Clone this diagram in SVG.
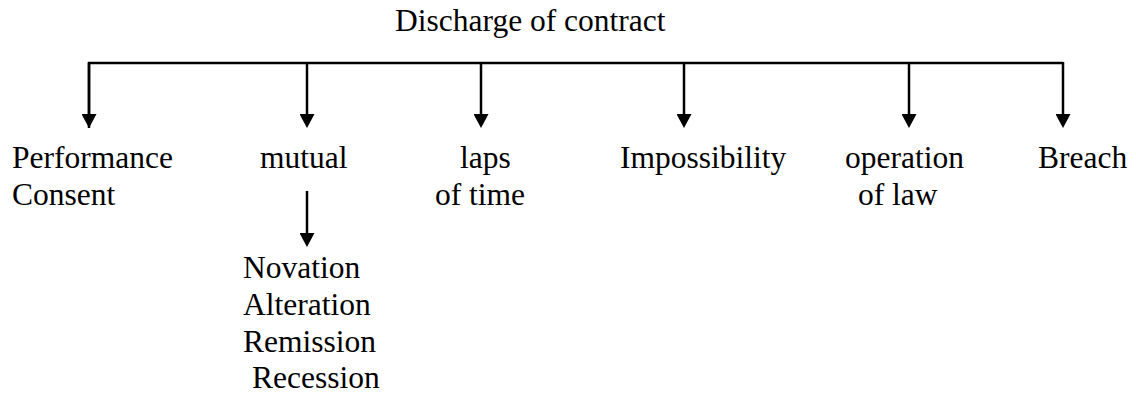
<svg xmlns="http://www.w3.org/2000/svg" width="1136" height="394" viewBox="0 0 1136 394">
<style>
  .t { font-family: 'Liberation Serif', 'DejaVu Serif', serif; font-size: 31.5px; fill: #000; }
  .conn { stroke: #000; stroke-width: 2.5; fill: none; }
</style>
<defs>
  <marker id="ah" markerUnits="userSpaceOnUse" markerWidth="14" markerHeight="15" viewBox="0 0 14 15" refX="4" refY="7.5" orient="auto">
    <path d="M0,0 L14,7.5 L0,15 z" fill="#000"/>
  </marker>
</defs>
<rect width="1136" height="394" fill="#fff"/>
<g id="connectors">
  <path class="conn" d="M89,128 V63 H1063"/>
  <line class="conn" x1="89" y1="63" x2="89" y2="118" marker-end="url(#ah)"/>
  <line class="conn" x1="307" y1="63" x2="307" y2="118" marker-end="url(#ah)"/>
  <line class="conn" x1="481" y1="63" x2="481" y2="118" marker-end="url(#ah)"/>
  <line class="conn" x1="684" y1="63" x2="684" y2="118" marker-end="url(#ah)"/>
  <line class="conn" x1="909" y1="63" x2="909" y2="118" marker-end="url(#ah)"/>
  <line class="conn" x1="1063" y1="62" x2="1063" y2="118" marker-end="url(#ah)"/>
  <line class="conn" x1="307" y1="191" x2="307" y2="237" marker-end="url(#ah)"/>
</g>
<g class="t" font-family="Liberation Serif, serif">
<g id="root"><text x="395" y="31">Discharge of contract</text></g>
<g id="performance"><text x="12" y="168">Performance</text><text x="12" y="205">Consent</text></g>
<g id="mutual"><text x="260" y="168">mutual</text></g>
<g id="laps"><text x="460" y="168">laps</text><text x="435" y="205">of time</text></g>
<g id="impossibility"><text x="620" y="168">Impossibility</text></g>
<g id="operation"><text x="845" y="168">operation</text><text x="858" y="205">of law</text></g>
<g id="breach"><text x="1038" y="168">Breach</text></g>
<g id="mutual-types">
  <text x="243" y="278">Novation</text>
  <text x="243" y="315">Alteration</text>
  <text x="243" y="352">Remission</text>
  <text x="252" y="388">Recession</text>
</g>
</g>
</svg>
